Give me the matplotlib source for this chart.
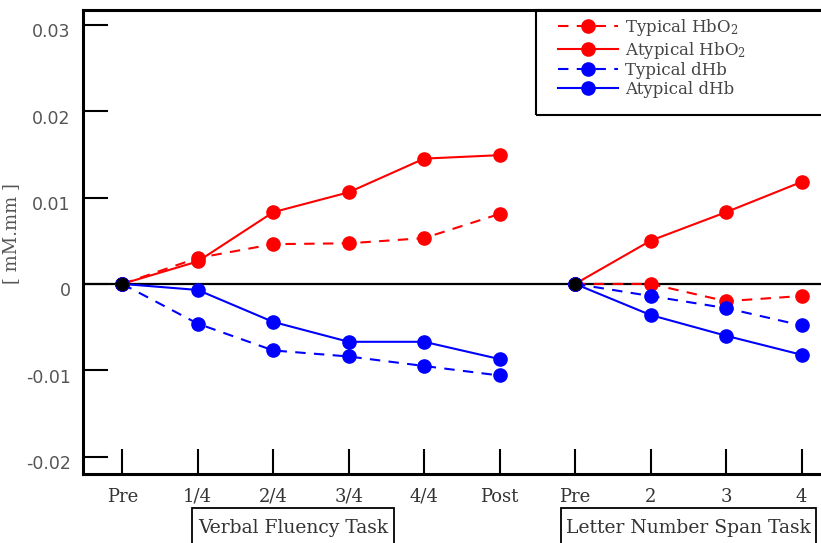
import matplotlib
matplotlib.use('Agg')
from matplotlib import pyplot as plt
from matplotlib import transforms
from matplotlib.patches import Rectangle

# verbal fluency task stages, then letter number span stages
vf_labels = ['Pre', '1/4', '2/4', '3/4', '4/4', 'Post']
ln_labels = ['Pre', '2', '3', '4']

vf_typ_hbo2 = [0, 0.0030, 0.0046, 0.0047, 0.0053, 0.0081]
vf_atyp_hbo2 = [0, 0.0026, 0.0083, 0.0106, 0.0145, 0.0149]
vf_typ_dhb = [0, -0.0046, -0.0077, -0.0084, -0.0095, -0.0106]
vf_atyp_dhb = [0, -0.0007, -0.0044, -0.0067, -0.0067, -0.0087]

ln_typ_hbo2 = [0, 0.0, -0.0020, -0.0014]
ln_atyp_hbo2 = [0, 0.0050, 0.0083, 0.0118]
ln_typ_dhb = [0, -0.0014, -0.0028, -0.0048]
ln_atyp_dhb = [0, -0.0036, -0.0060, -0.0082]

yticks = [-0.02, -0.01, 0, 0.01, 0.02, 0.03]
ytick_labels = ['-0.02', '-0.01', '0', '0.01', '0.02', '0.03']

plt.rcParams['mathtext.fontset'] = 'dejavuserif'

W, H = 821, 543
fig = plt.figure(figsize=(W / 100, H / 100), dpi=100)
ax = fig.add_axes([83 / W, 1 - 474 / H, (W - 83) / W + 0.002, (474 - 10) / H])

vf_x = list(range(len(vf_labels)))
ln_x = [len(vf_labels) + i for i in range(len(ln_labels))]

ax.axhline(0, color='black', lw=1.6, zorder=1)

series = [
    (vf_typ_hbo2, ln_typ_hbo2, 'red', '--', 'Typical HbO$_2$'),
    (vf_atyp_hbo2, ln_atyp_hbo2, 'red', '-', 'Atypical HbO$_2$'),
    (vf_typ_dhb, ln_typ_dhb, 'blue', '--', 'Typical dHb'),
    (vf_atyp_dhb, ln_atyp_dhb, 'blue', '-', 'Atypical dHb'),
]
for vf, ln, color, ls, label in series:
    kw = dict(color=color, ls=ls, lw=1.5, marker='o', ms=9.5, zorder=3)
    if ls == '--':
        kw['dashes'] = (5, 4)
    ax.plot(vf_x, vf, label=label, **kw)
    ax.plot(ln_x, ln, **kw)

# black start points
ax.plot([vf_x[0], ln_x[0]], [vf_typ_hbo2[0], ln_typ_hbo2[0]], 'o', color='black', ms=8.5, zorder=4)

ax.set_xlim(-0.52, 9.28)
ax.set_ylim(-0.0220, 0.0317)
ax.set_xticks(vf_x + ln_x)
ax.set_xticklabels(vf_labels + ln_labels, family='DejaVu Serif', fontsize=13, color='#333333')
ax.set_yticks(yticks)
ax.set_yticklabels(ytick_labels, fontsize=12.5, color='#555555')
ax.tick_params(axis='both', direction='in', length=18, width=1.5)
ax.tick_params(axis='y', pad=9)
ax.tick_params(axis='x', pad=10)
for side in ['left', 'bottom', 'top', 'right']:
    ax.spines[side].set_linewidth(2.2)

offset = transforms.ScaledTranslation(0, -4 / 72, fig.dpi_scale_trans)
for lbl in ax.get_yticklabels():
    lbl.set_transform(lbl.get_transform() + offset)

ax.set_ylabel('[ mM.mm ]', family='DejaVu Serif', fontsize=13, color='#555555')
ax.yaxis.set_label_coords(20 / W, 1 - 234 / H, transform=fig.transFigure)

# legend box runs off the right edge, so frame is drawn by hand
fig.patches.append(Rectangle((536 / W, 1 - 115 / H), 0.4, (115 - 10) / H,
                             transform=fig.transFigure, fill=False, ec='black', lw=1.5, zorder=5))
leg = ax.legend(loc='upper left', bbox_to_anchor=(558 / W, 1 - 17 / H),
                bbox_transform=fig.transFigure, borderaxespad=0, borderpad=0,
                prop={'family': 'DejaVu Serif', 'size': 12}, handlelength=3.6,
                labelspacing=0.1, handletextpad=0.4, frameon=False)
for t in leg.get_texts():
    t.set_color('#444444')

# task name boxes under the axis
boxes = [(192, 394, 'Verbal Fluency Task'), (561, 816, 'Letter Number Span Task')]
for x0, x1, name in boxes:
    fig.patches.append(Rectangle((x0 / W, -0.05), (x1 - x0) / W, 0.05 + 1 - 508 / H,
                                 transform=fig.transFigure, fill=False, ec='black', lw=1.3))
    fig.text((x0 + x1) / 2 / W, 1 - 528 / H, name, ha='center', va='center',
             family='DejaVu Serif', fontsize=13.5, color='#333333')

fig.savefig('out.png', dpi=100)
